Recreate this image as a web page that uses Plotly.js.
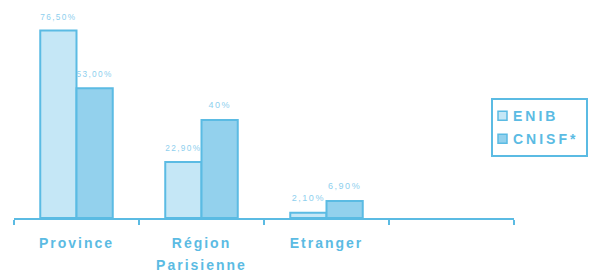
<!DOCTYPE html>
<html>
<head>
<meta charset="utf-8">
<script src="https://cdn.plot.ly/plotly-3.0.1.min.js"></script>
<style>
html,body{margin:0;padding:0;background:#fff;}
#chart .xtick text { letter-spacing: 2px; }
#chart .xtick text tspan.line:nth-of-type(2) { font-size: 17px; }
#chart .legendtext { letter-spacing: 3px; transform: translateX(-20px); }
#chart .legendpoints path { transform: translate(9.5px, 0px) scale(0.75); }
text.bartext { letter-spacing: 1.5px; }
text.bartext tspan.line:nth-of-type(2) { font-size: 6px; }
</style>
</head>
<body>
<div id="chart" style="width:591px;height:272px;"></div>
<script>
const categories = ["Province", "Région<br><span style='font-size:14px'>Parisienne</span>", "Etranger", " "];
const enibValues = [76.5, 22.9, 2.1, null];
const cnisfValues = [53.0, 40.0, 6.9, null];
const enibLabels = ["76,50%", "22,90%", "2,10%", ""];
const cnisfLabels = ["53,00%", "40%", "6,90%", ""];
const seriesNames = ["ENIB", "CNISF*"];

const lineColor = "#5bbbe3";
const labelColor = "#8ecfee";
const fontFam = "Liberation Sans, Arial, sans-serif";

const traces = [
  {
    type: "bar", name: seriesNames[0], x: categories, y: enibValues,
    text: enibLabels.map(t => t ? t + "<br> " : ""), textposition: "outside", cliponaxis: false,
    textfont: {family: fontFam, size: 9, color: labelColor},
    marker: {color: "#c5e7f6", line: {color: lineColor, width: 2}},
    legendgroup: "a", hoverinfo: "skip"
  },
  {
    type: "bar", name: seriesNames[1], x: categories, y: cnisfValues,
    text: cnisfLabels.map(t => t ? t + "<br> " : ""), textposition: "outside", cliponaxis: false,
    textfont: {family: fontFam, size: 9, color: labelColor},
    marker: {color: "#93d1ed", line: {color: lineColor, width: 2}},
    legendgroup: "b", hoverinfo: "skip"
  }
];

const layout = {
  width: 591, height: 272,
  margin: {l: 14, r: 77, t: 22, b: 54, autoexpand: false},
  paper_bgcolor: "#fff", plot_bgcolor: "#fff",
  barmode: "group", bargap: 0.42, bargroupgap: 0,
  showlegend: true,
  legend: {
    x: 0.954, y: 0.612, xanchor: "left", yanchor: "top",
    bordercolor: lineColor, borderwidth: 2, bgcolor: "#fff",
    font: {family: fontFam, size: 14, color: lineColor, weight: "bold"},
    traceorder: "grouped", tracegroupgap: 2,
    entrywidth: 50
  },
  xaxis: {
    type: "category", range: [-0.5, 3.5],
    showline: true, linecolor: lineColor, linewidth: 2,
    ticks: "outside", tickson: "boundaries", ticklen: 5, tickwidth: 2, tickcolor: lineColor,
    ticklabelstandoff: 11,
    tickfont: {family: fontFam, size: 14, color: lineColor, weight: "bold"},
    showgrid: false, zeroline: false, fixedrange: true
  },
  yaxis: {
    range: [0, 80], visible: false, showgrid: false, zeroline: false, fixedrange: true
  }
};

Plotly.newPlot("chart", traces, layout, {displayModeBar: false, staticPlot: true});
</script>
</body>
</html>
